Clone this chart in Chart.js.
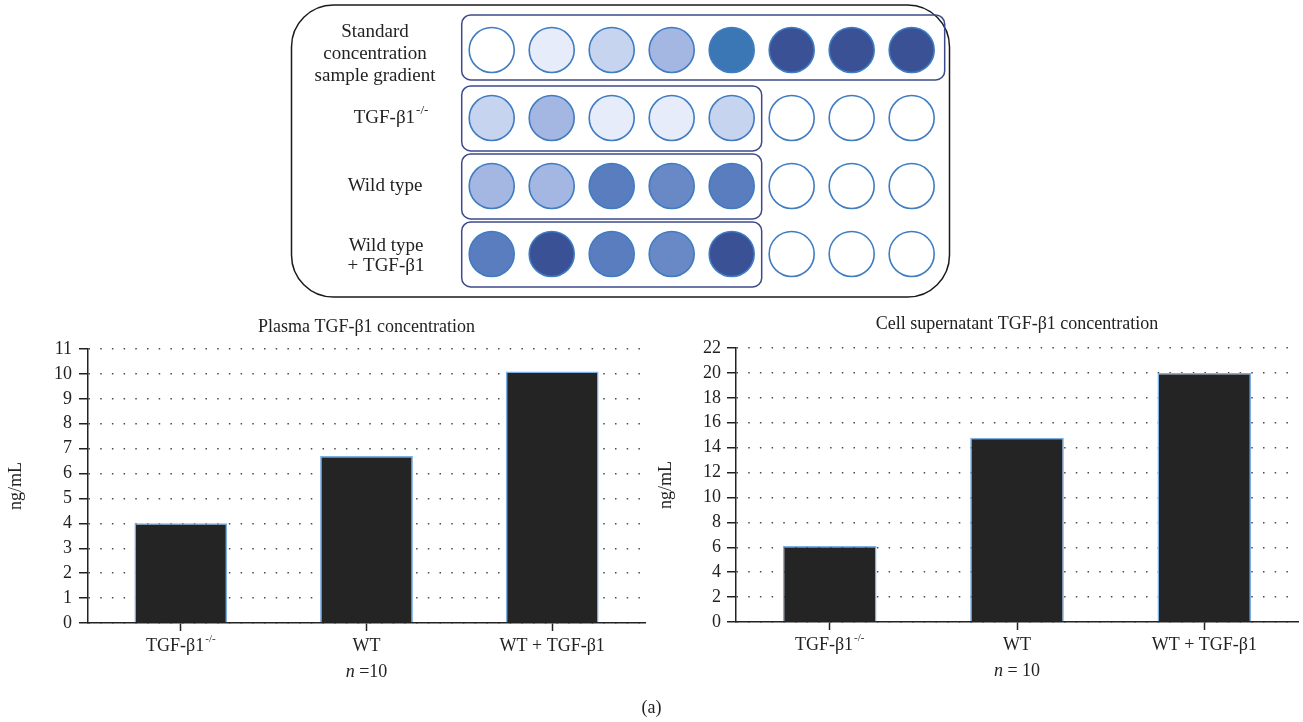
<!DOCTYPE html>
<html>
<head>
<meta charset="utf-8">
<script src="https://cdn.jsdelivr.net/npm/chart.js@4.4.1/dist/chart.umd.min.js"></script>
<style>
    html, body { margin: 0; padding: 0; background: #fff; }
    #quadro { position: relative; width: 1303px; height: 722px; overflow: hidden; }
    canvas { position: absolute; }
    #c-placa { left: 290px; top: 0; }
    #c-plasma { left: 0; top: 300px; }
    #c-sobrenadante { left: 652px; top: 300px; }
    #legenda { position: absolute; left: 0; top: 697px; width: 1303px; text-align: center;
        font: 18px 'Liberation Serif', 'Times New Roman', serif; color: #222; }
</style>
</head>
<body>
<div id="quadro">
    <canvas id="c-placa" width="662" height="300"></canvas>
    <canvas id="c-plasma" width="652" height="400"></canvas>
    <canvas id="c-sobrenadante" width="651" height="400"></canvas>
    <div id="legenda">(a)</div>
</div>
<script>
    // placa ELISA: 8 colunas x 4 linhas, intensidade de cor por poço
    const colunasPlaca = [1, 2, 3, 4, 5, 6, 7, 8];
    const rotulosLinhas = [
        ['Standard', 'concentration', 'sample gradient'],
        ['TGF-β1'],
        ['Wild type'],
        ['Wild type', '+ TGF-β1']
    ];
    const sobrescritoLinhas = ['', '-/-', '', ''];
    const PALETA = ['#ffffff', '#e6ecf9', '#c6d4f0', '#a4b7e2', '#6889c6', '#5a7dbf', '#3b77b5', '#3a5196'];
    const nivelPadrao = [0, 1, 2, 3, 6, 7, 7, 7];
    const nivelKO = [2, 3, 1, 1, 2, 0, 0, 0];
    const nivelWT = [3, 3, 5, 4, 5, 0, 0, 0];
    const nivelWTTGF = [5, 7, 5, 4, 7, 0, 0, 0];
    const colunasPorGrupo = [8, 5, 5, 5];

    // gráficos de barras
    const categorias = ['TGF-β1', 'WT', 'WT + TGF-β1'];
    const sobrescritoCategorias = ['-/-', '', ''];
    const plasmaValores = [4.0, 6.7, 10.1];
    const plasmaMax = 11;
    const plasmaPasso = 1;
    const sobrenadanteValores = [6.1, 14.8, 20.0];
    const sobrenadanteMax = 22;
    const sobrenadantePasso = 2;

    const SERIF = "'Liberation Serif', 'Times New Roman', serif";
    const COR_TEXTO = '#222';

    function caminhoArredondado(ctx, x, y, w, h, r) {
        ctx.beginPath();
        ctx.moveTo(x + r, y);
        ctx.lineTo(x + w - r, y);
        ctx.arcTo(x + w, y, x + w, y + r, r);
        ctx.lineTo(x + w, y + h - r);
        ctx.arcTo(x + w, y + h, x + w - r, y + h, r);
        ctx.lineTo(x + r, y + h);
        ctx.arcTo(x, y + h, x, y + h - r, r);
        ctx.lineTo(x, y + r);
        ctx.arcTo(x, y, x + r, y, r);
        ctx.closePath();
    }

    // texto com sobrescrito, centrado em cx
    function textoComSobrescrito(ctx, texto, sup, cx, cy, tam, fatorSup) {
        const f = fatorSup || 0.62;
        ctx.font = tam + 'px ' + SERIF;
        const wBase = ctx.measureText(texto).width;
        ctx.font = Math.round(tam * f) + 'px ' + SERIF;
        const wSup = sup ? ctx.measureText(sup).width + 1 : 0;
        const x0 = cx - (wBase + wSup) / 2;
        ctx.textAlign = 'left';
        ctx.textBaseline = 'middle';
        ctx.font = tam + 'px ' + SERIF;
        ctx.fillText(texto, x0, cy);
        if (sup) {
            ctx.font = Math.round(tam * f) + 'px ' + SERIF;
            ctx.fillText(sup, x0 + wBase + 1, cy - tam * 0.38);
        }
    }

    const molduraPlaca = {
        id: 'molduraPlaca',
        beforeDatasetsDraw(chart) {
            const { ctx, scales: { x, y } } = chart;
            ctx.save();
            // contorno externo
            ctx.strokeStyle = '#1a1a1a';
            ctx.lineWidth = 1.5;
            caminhoArredondado(ctx, 1.5, 5, 658, 292, 42);
            ctx.stroke();

            // caixas de cada grupo
            ctx.strokeStyle = '#3d4a8a';
            ctx.lineWidth = 1.5;
            colunasPorGrupo.forEach((ultima, i) => {
                const x1 = x.getPixelForValue(0.5);
                const x2 = x.getPixelForValue(ultima + (ultima === 8 ? 0.55 : 0.5));
                const yc = y.getPixelForValue(i + 1) + (i === 0 ? -2 : 1);
                caminhoArredondado(ctx, x1, yc - 33, x2 - x1, 65, 9);
                ctx.stroke();
            });

            // rótulos das linhas
            ctx.fillStyle = COR_TEXTO;
            const centros = [85, 101, 95, 96];
            const desvios = [4, 0, 0, 2];
            rotulosLinhas.forEach((linhas, i) => {
                const yc = y.getPixelForValue(i + 1) + desvios[i];
                const alt = i === 0 ? 22 : 20.5;
                linhas.forEach((t, j) => {
                    const ly = yc + (j - (linhas.length - 1) / 2) * alt;
                    textoComSobrescrito(ctx, t, j === 0 ? sobrescritoLinhas[i] : '', centros[i], ly, 19, 0.68);
                });
            });
            ctx.restore();
        }
    };

    const niveisPlaca = [nivelPadrao, nivelKO, nivelWT, nivelWTTGF];

    new Chart(document.getElementById('c-placa'), {
        type: 'scatter',
        data: {
            datasets: niveisPlaca.map((niveis, i) => ({
                data: colunasPlaca.map(c => ({ x: c, y: i + 1 })),
                pointRadius: 22.5,
                pointHoverRadius: 22.5,
                pointBorderWidth: 1.6,
                pointBorderColor: '#3f7cc2',
                pointBackgroundColor: niveis.map(n => PALETA[n]),
                clip: false
            }))
        },
        options: {
            responsive: false,
            animation: false,
            events: [],
            layout: { padding: 0, autoPadding: false },
            plugins: { legend: { display: false }, tooltip: { enabled: false } },
            scales: {
                x: { type: 'linear', display: false, min: -2.362, max: 8.672 },
                y: { type: 'linear', display: false, min: 0.265, max: 4.677, reverse: true }
            }
        },
        plugins: [molduraPlaca]
    });

    const rotulosEixoX = {
        id: 'rotulosEixoX',
        afterDraw(chart, args, opts) {
            const { ctx, chartArea, scales: { x } } = chart;
            ctx.save();
            ctx.fillStyle = COR_TEXTO;

            // título centrado na área do gráfico
            ctx.font = '18px ' + SERIF;
            ctx.textAlign = 'center';
            ctx.textBaseline = 'middle';
            ctx.fillText(opts.titulo, (chartArea.left + chartArea.right) / 2, opts.tituloY);

            categorias.forEach((cat, i) => {
                const cx = x.getPixelForValue(i);
                textoComSobrescrito(ctx, cat, sobrescritoCategorias[i], cx, chartArea.bottom + 23, 18);
            });
            // n da amostra sob WT
            const cx = x.getPixelForValue(1);
            const cy = chartArea.bottom + 49;
            ctx.textBaseline = 'middle';
            ctx.textAlign = 'left';
            ctx.font = 'italic 18px ' + SERIF;
            const wn = ctx.measureText('n').width;
            ctx.font = '18px ' + SERIF;
            const resto = opts.nota;
            const wr = ctx.measureText(resto).width;
            const x0 = cx - (wn + wr) / 2;
            ctx.font = 'italic 18px ' + SERIF;
            ctx.fillText('n', x0, cy);
            ctx.font = '18px ' + SERIF;
            ctx.fillText(resto, x0 + wn, cy);
            ctx.restore();
        }
    };

    function criarBarras(id, titulo, valores, maxY, passo, cfg) {
        return new Chart(document.getElementById(id), {
            type: 'bar',
            data: {
                labels: categorias,
                datasets: [{
                    data: valores,
                    backgroundColor: '#242424',
                    borderColor: '#7fb0e3',
                    borderWidth: 1.5,
                    borderSkipped: 'bottom',
                    barPercentage: 0.5,
                    categoryPercentage: 1
                }]
            },
            options: {
                responsive: false,
                animation: false,
                events: [],
                layout: { padding: { left: 0, right: cfg.padDir, top: cfg.topo, bottom: 0 } },
                plugins: {
                    legend: { display: false },
                    tooltip: { enabled: false },
                    title: { display: false },
                    rotulosEixoX: { nota: cfg.nota, titulo: titulo, tituloY: cfg.tituloY }
                },
                scales: {
                    x: {
                        grid: {
                            display: true, drawOnChartArea: false, drawTicks: true,
                            tickLength: 8, offset: false, tickColor: COR_TEXTO, tickWidth: 1.5
                        },
                        border: { color: COR_TEXTO, width: 1.5 },
                        ticks: { display: false },
                        afterFit: s => { s.height = cfg.alturaX; }
                    },
                    y: {
                        min: 0,
                        max: maxY,
                        ticks: {
                            stepSize: passo,
                            color: COR_TEXTO,
                            padding: cfg.padTicks,
                            font: { family: SERIF, size: 18 }
                        },
                        grid: {
                            color: '#4a4a4a', lineWidth: 1.5,
                            tickColor: COR_TEXTO, tickWidth: 1.5, tickLength: 9
                        },
                        border: { color: COR_TEXTO, width: 1.5, dash: [1.5, 10.2], dashOffset: 0 },
                        title: {
                            display: true,
                            text: 'ng/mL',
                            color: COR_TEXTO,
                            font: { family: SERIF, size: 18 },
                            padding: { top: cfg.tituloYPad, bottom: 0 }
                        },
                        afterFit: s => { s.width = cfg.larguraY; }
                    }
                }
            },
            plugins: [rotulosEixoX]
        });
    }

    criarBarras('c-plasma', 'Plasma TGF-β1 concentration', plasmaValores, plasmaMax, plasmaPasso, {
        padDir: 7, topo: 49, tituloY: 27, alturaX: 77, larguraY: 88, tituloYPad: 5.2, padTicks: 7, nota: ' =10'
    });

    criarBarras('c-sobrenadante', 'Cell supernatant TGF-β1 concentration', sobrenadanteValores, sobrenadanteMax, sobrenadantePasso, {
        padDir: 5, topo: 48, tituloY: 24, alturaX: 78, larguraY: 84, tituloYPad: 3.2, padTicks: 6, nota: ' = 10'
    });
</script>
</body>
</html>
